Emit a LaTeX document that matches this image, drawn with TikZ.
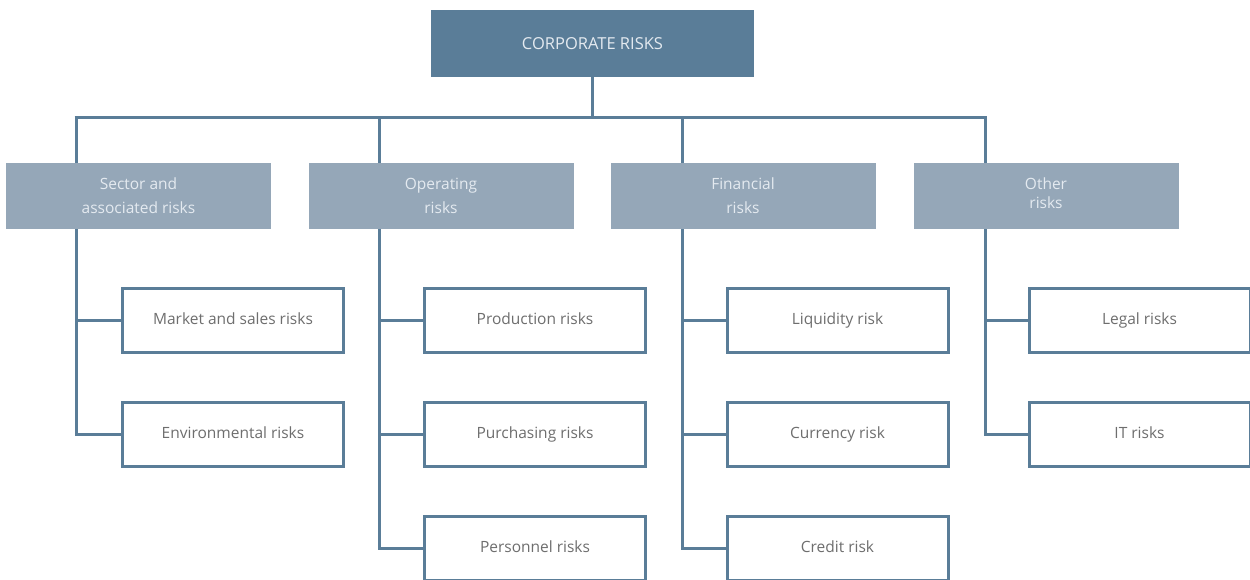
\documentclass[tikz,border=0pt]{standalone}
\usepackage{fontspec}
\setmainfont{Open Sans}
\usetikzlibrary{backgrounds}
\definecolor{dark}{HTML}{5A7D98}
\definecolor{mid}{HTML}{95A7B8}
\definecolor{txt}{HTML}{6E6E6E}
\definecolor{lighttxt}{HTML}{E4EAF0}
\tikzset{
  rootbox/.style={fill=dark, text=lighttxt, minimum width=323pt, minimum height=67pt, inner sep=0pt, font=\fontsize{16.5}{19}\selectfont},
  cattext/.style={text=lighttxt, align=center, font=\fontsize{15.5}{24}\selectfont},
  catbox/.style={fill=mid, cattext, minimum width=265pt, minimum height=66pt, inner sep=0pt},
  leafbox/.style={draw=dark, line width=3pt, fill=white, text=txt, minimum width=221pt, minimum height=64pt, inner sep=0pt, text height=11.5pt, text depth=3.5pt, font=\fontsize{15.5}{18}\selectfont},
  conn/.style={draw=dark, line width=3pt}
}
\begin{document}
\begin{tikzpicture}[x=1pt,y=-1pt]
\useasboundingbox (0,0) rectangle (1250,579);
\clip (0,0) rectangle (1250,579);
\node[rootbox] (root) at (592.5,43.5) {CORPORATE RISKS};
\node[catbox] (c1) at (138.5,196) {Sector and\\associated risks};
\node[catbox] (c2) at (441,196) {Operating\\risks};
\node[catbox] (c3) at (743,196) {Financial\\risks};
\node[catbox, label={[cattext, yshift=2.5pt]center:Other\\[-5pt]risks}] (c4) at (1046,196) {};
\node[leafbox] (a1) at (233,320.5) {Market and sales risks};
\node[leafbox] (a2) at (233,434) {Environmental risks};
\node[leafbox] (b1) at (535,320.5) {Production risks};
\node[leafbox] (b2) at (535,434) {Purchasing risks};
\node[leafbox] (b3) at (535,548) {Personnel risks};
\node[leafbox] (d1) at (837.5,320.5) {Liquidity risk};
\node[leafbox] (d2) at (837.5,434) {Currency risk};
\node[leafbox] (d3) at (837.5,548) {Credit risk};
\node[leafbox] (e1) at (1139.5,320.5) {Legal risks};
\node[leafbox] (e2) at (1139.5,434) {IT risks};
\coordinate (bus) at (592.5,117);
\coordinate (s1) at (76,117);
\coordinate (s2) at (379,117);
\coordinate (s3) at (682,117);
\coordinate (s4) at (985,117);
\begin{scope}[on background layer]
\draw[conn] (root.south) -- (bus);
\draw[conn] ([xshift=-1.5pt]s1) -- ([xshift=1.5pt]s4);
\draw[conn] (s1) -- (s1 |- a1.west) -- (a1.west);
\draw[conn] (s1 |- a1.west) -- (s1 |- a2.west) -- (a2.west);
\draw[conn] (s2) -- (s2 |- b1.west) -- (b1.west);
\draw[conn] (s2 |- b1.west) -- (s2 |- b2.west) -- (b2.west);
\draw[conn] (s2 |- b2.west) -- (s2 |- b3.west) -- (b3.west);
\draw[conn] (s3) -- (s3 |- d1.west) -- (d1.west);
\draw[conn] (s3 |- d1.west) -- (s3 |- d2.west) -- (d2.west);
\draw[conn] (s3 |- d2.west) -- (s3 |- d3.west) -- (d3.west);
\draw[conn] (s4) -- (s4 |- e1.west) -- (e1.west);
\draw[conn] (s4 |- e1.west) -- (s4 |- e2.west) -- (e2.west);
\end{scope}
\end{tikzpicture}
\end{document}
